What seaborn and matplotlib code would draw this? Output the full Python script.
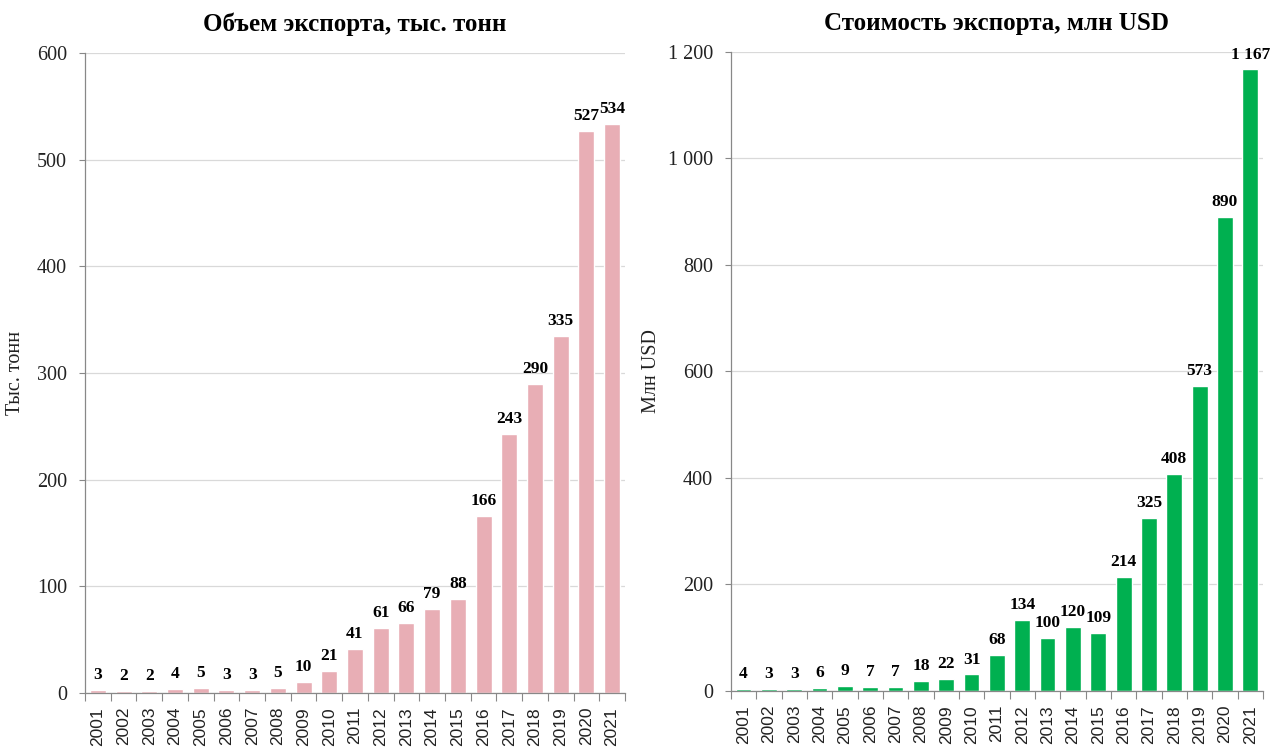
import numpy as np
import pandas as pd
import matplotlib
matplotlib.use("Agg")
import matplotlib.pyplot as plt
import seaborn as sns

years = [str(y) for y in range(2001, 2022)]
volume = [3, 2, 2, 4, 5, 3, 3, 5, 10, 21, 41, 61, 66, 79, 88, 166, 243, 290, 335, 527, 534]
value = [4, 3, 3, 6, 9, 7, 7, 18, 22, 31, 68, 134, 100, 120, 109, 214, 325, 408, 573, 890, 1167]

sns.set_theme(style="white")
plt.rcParams['font.family'] = ['Liberation Serif', 'DejaVu Serif']
plt.rcParams['text.color'] = 'black'
plt.rcParams['axes.labelcolor'] = 'black'


def fmt(v):
    return f"{int(v):,}".replace(",", " ")


def draw(ax, vals, color, title, ylabel, ymax, step, lab_x):
    df = pd.DataFrame({"year": years, "v": vals})
    sns.barplot(data=df, x="year", y="v", color=color, width=0.62,
                saturation=1, ax=ax)
    ax.set_xlim(-0.5, len(years) - 0.5)
    ax.set_ylim(0, ymax)
    ticks = np.arange(0, ymax + 1, step)
    ax.set_yticks(ticks)
    ax.set_yticklabels([fmt(t) for t in ticks], fontsize=14.5, color="#222222")
    ax.yaxis.grid(True, color="#d9d9d9", linewidth=0.9)
    ax.set_axisbelow(True)
    ax.set_xticks(range(len(years)))
    ax.set_xticklabels(years, rotation=90, fontsize=12.5, family="Liberation Sans",
                       color="#222222")
    ax.tick_params(axis="x", length=0, pad=10)
    ax.set_xticks(np.arange(-0.5, len(years), 1), minor=True)
    ax.tick_params(axis="x", which="minor", length=6, color="#888888", width=0.8,
                   direction="out", bottom=True)
    ax.tick_params(axis="y", length=4, color="#888888", width=0.8, direction="out",
                   left=True, pad=9)
    for s in ["top", "right"]:
        ax.spines[s].set_visible(False)
    for s in ["left", "bottom"]:
        ax.spines[s].set_color("#888888")
        ax.spines[s].set_linewidth(0.9)
    ax.set_xlabel("")
    ax.set_ylabel(ylabel, fontsize=14.5, color="#222222")
    ax.yaxis.set_label_coords(lab_x, 0.5)
    ax.set_title(title, fontsize=18, fontweight="bold", pad=16)
    for i, v in enumerate(vals):
        ax.annotate(fmt(v), (i, v), xytext=(0, 5), textcoords="offset points",
                    ha="center", va="bottom", fontsize=12.5, fontweight="bold")


fig = plt.figure(figsize=(12.71, 7.51), dpi=100)
ax1 = fig.add_axes([0.0669, 0.0772, 0.4248, 0.852])
ax2 = fig.add_axes([0.5751, 0.0799, 0.4186, 0.851])

draw(ax1, volume, "#E8AEB5", "Объем экспорта, тыс. тонн", "Тыс. тонн", 600, 100, -0.111)
draw(ax2, value, "#00B050", "Стоимость экспорта, млн USD", "Млн USD", 1200, 200, -0.131)

fig.savefig("out.png", dpi=100)
